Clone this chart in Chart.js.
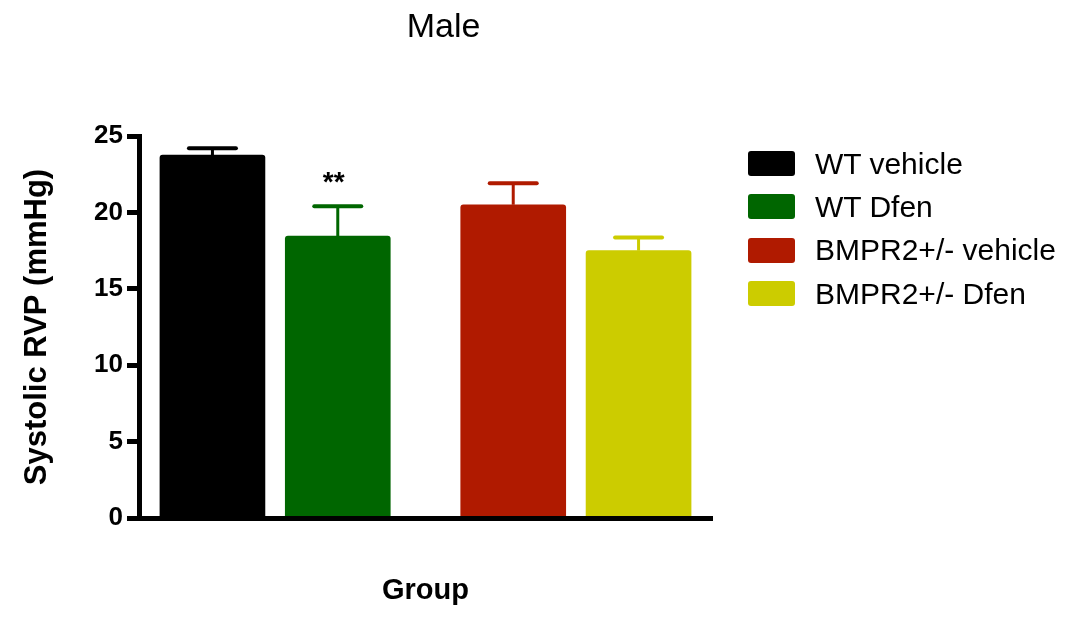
<!DOCTYPE html>
<html>
<head>
<meta charset="utf-8">
<title>Male - Systolic RVP</title>
<script src="https://cdn.jsdelivr.net/npm/chart.js@4.4.1/dist/chart.umd.min.js"></script>
<style>
  html, body { margin: 0; padding: 0; background: #fff; }
  #wrap { position: relative; width: 1079px; height: 617px; }
  #legend {
    position: absolute; left: 748px; top: 151px;
    margin: 0; padding: 0; list-style: none;
    font-family: "Liberation Sans", Arial, sans-serif; font-size: 30px; color: #000;
  }
  #legend li { display: flex; align-items: center; height: 25px; margin-bottom: 18.4px; white-space: nowrap; }
  #legend .box { width: 47px; height: 25px; border-radius: 3px; margin-right: 20px; flex: none; }
</style>
</head>
<body>
<div id="wrap">
  <canvas id="chart" width="1079" height="617"></canvas>
  <ul id="legend"></ul>
</div>
<script>
// data (mean + SEM, mmHg)
const groups   = ['WT vehicle', 'WT Dfen', 'BMPR2+/- vehicle', 'BMPR2+/- Dfen'];
const genotype = ['WT', 'WT', 'BMPR2+/-', 'BMPR2+/-'];
const meanRVP  = [23.75, 18.45, 20.5, 17.5];
const semRVP   = [0.45, 1.95, 1.4, 0.85];
const signif   = ['', '**', '', ''];
const yTicks   = [0, 5, 10, 15, 20, 25];

const colors = ['#000000', '#006600', '#b01a00', '#cccc00'];
const FONT = '"Liberation Sans", Arial, Helvetica, sans-serif';

// bars sit side by side, with an extra gap where the genotype changes
let gaps = 0;
const xPos = groups.map((g, i) => {
  if (i > 0 && genotype[i] !== genotype[i - 1]) gaps++;
  return i + gaps * 0.4;
});

const datasets = groups.map((g, i) => ({
  label: g,
  data: [{ x: xPos[i], y: meanRVP[i] }],
  backgroundColor: colors[i],
  barThickness: 105,
  borderRadius: 3,
  borderSkipped: 'bottom',
  grouped: false
}));

// error bars (up only) + significance stars + title
const extras = {
  id: 'extras',
  afterDatasetsDraw(chart) {
    const ctx = chart.ctx;
    const y = chart.scales.y;
    chart.data.datasets.forEach((ds, i) => {
      const bar = chart.getDatasetMeta(i).data[0];
      const top = y.getPixelForValue(meanRVP[i] + semRVP[i]);
      ctx.save();
      ctx.strokeStyle = ds.backgroundColor;
      ctx.lineWidth = 3;
      ctx.beginPath();
      ctx.moveTo(bar.x, bar.y);
      ctx.lineTo(bar.x, top);
      ctx.stroke();
      ctx.lineWidth = 4;
      ctx.lineCap = 'round';
      ctx.beginPath();
      ctx.moveTo(bar.x - 23.5, top);
      ctx.lineTo(bar.x + 23.5, top);
      ctx.stroke();
      if (signif[i]) {
        ctx.fillStyle = '#000';
        ctx.font = 'bold 28px ' + FONT;
        ctx.textAlign = 'center';
        ctx.textBaseline = 'alphabetic';
        ctx.fillText(signif[i], bar.x - 4, top - 15);
      }
      ctx.restore();
    });
  },
  afterDraw(chart) {
    const ctx = chart.ctx;
    ctx.save();
    ctx.fillStyle = '#000';
    ctx.font = '34px ' + FONT;
    ctx.textAlign = 'center';
    ctx.textBaseline = 'alphabetic';
    ctx.fillText('Male', 443.5, 37);
    ctx.restore();
  }
};

// html legend built from chart's own legend items
const htmlLegend = {
  id: 'htmlLegend',
  afterUpdate(chart) {
    const ul = document.getElementById('legend');
    ul.innerHTML = '';
    const items = chart.options.plugins.legend.labels.generateLabels(chart);
    items.forEach(item => {
      const li = document.createElement('li');
      const box = document.createElement('span');
      box.className = 'box';
      box.style.background = item.fillStyle;
      const txt = document.createElement('span');
      txt.textContent = item.text;
      li.appendChild(box);
      li.appendChild(txt);
      ul.appendChild(li);
    });
  }
};

new Chart(document.getElementById('chart'), {
  type: 'bar',
  data: { datasets },
  options: {
    responsive: false,
    animation: false,
    layout: { padding: { top: 136, right: 367, bottom: 0, left: 0 } },
    plugins: {
      legend: { display: false },
      tooltip: { enabled: false }
    },
    scales: {
      x: {
        type: 'linear',
        min: -0.586,
        max: 3.986,
        offset: false,
        ticks: { display: false },
        grid: { display: false, drawTicks: false, offset: false },
        border: { display: true, width: 5, color: '#000', z: 1 },
        title: {
          display: true, text: 'Group', color: '#000',
          font: { family: FONT, size: 29, weight: 'bold' },
          padding: { top: 0, bottom: 8.6 }
        },
        afterFit(s) { s.height = 99; }
      },
      y: {
        min: 0,
        max: 25,
        afterBuildTicks(s) { s.ticks = yTicks.map(v => ({ value: v })); },
        ticks: { color: '#000', padding: 4, font: { family: FONT, size: 26, weight: 'bold' } },
        grid: { drawOnChartArea: false, tickLength: 12, tickWidth: 5, tickColor: '#000' },
        border: { display: true, width: 5, color: '#000', z: 1 },
        title: {
          display: true, text: 'Systolic RVP (mmHg)', color: '#000',
          font: { family: FONT, size: 31, weight: 'bold' },
          padding: { top: 18.4, bottom: 0 }
        },
        afterFit(s) { s.width = 139; }
      }
    }
  },
  plugins: [extras, htmlLegend]
});
</script>
</body>
</html>
